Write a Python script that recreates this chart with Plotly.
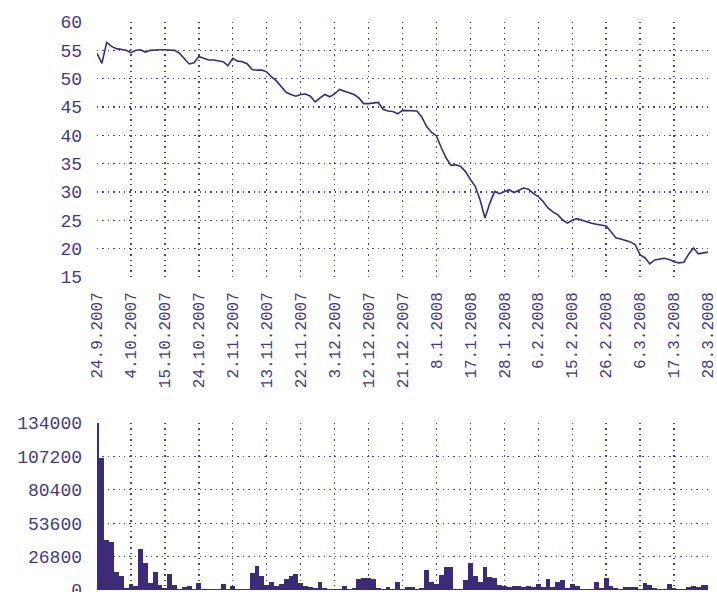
import plotly.graph_objects as go

tick_labels = ["24.9.2007", "4.10.2007", "15.10.2007", "24.10.2007", "2.11.2007",
               "13.11.2007", "22.11.2007", "3.12.2007", "12.12.2007", "21.12.2007",
               "8.1.2008", "17.1.2008", "28.1.2008", "6.2.2008", "15.2.2008",
               "26.2.2008", "6.3.2008", "17.3.2008", "28.3.2008"]
days_per_tick = 7

price = [54.5, 52.7, 56.4, 55.7, 55.3, 55.1, 55.0, 54.6, 55.0, 55.1,
         54.7, 55.0, 55.1, 55.1, 55.1, 55.1, 55.0, 54.5, 53.6, 52.6,
         52.8, 53.9, 53.6, 53.3, 53.3, 53.2, 53.0, 52.3, 53.6, 53.1,
         53.0, 52.6, 51.6, 51.5, 51.5, 51.2, 50.3, 49.6, 48.5, 47.6,
         47.2, 46.9, 47.2, 47.3, 46.9, 45.9, 46.6, 47.2, 46.8, 47.3,
         48.1, 47.8, 47.5, 47.2, 46.6, 45.6, 45.6, 45.7, 45.8, 44.6,
         44.3, 44.2, 43.8, 44.4, 44.4, 44.4, 44.3, 43.2, 41.5, 40.5,
         39.9, 37.8, 36.0, 34.7, 34.8, 34.5, 33.6, 32.2, 31.0, 28.6,
         25.4, 28.0, 30.1, 29.7, 30.0, 30.4, 29.9, 30.3, 30.7, 30.5,
         29.7, 29.2, 28.3, 27.2, 26.5, 26.0, 25.1, 24.5, 25.0, 25.3,
         25.0, 24.8, 24.5, 24.3, 24.1, 24.0, 23.0, 21.9, 21.7, 21.5,
         21.2, 20.7, 18.9, 18.4, 17.3, 18.0, 18.2, 18.3, 18.1, 17.7,
         17.5, 17.6, 19.0, 20.1, 19.1, 19.3, 19.4]

volume = [134000, 106000, 40000, 38500, 14700, 11500, 2000, 4500, 3500, 32600,
          21400, 6000, 14700, 4000, 1500, 12800, 4000, 1000, 2500, 3500,
          1000, 6000, 1000, 800, 1000, 800, 5000, 1000, 3500, 800,
          500, 800, 13900, 19500, 11500, 4000, 6700, 3500, 5000, 8500,
          11200, 12800, 5300, 3000, 2500, 1500, 6700, 1500, 1000, 1000,
          1000, 3200, 1000, 1500, 9000, 9900, 9500, 8500, 1500, 700,
          2500, 700, 6700, 700, 2500, 2500, 700, 1500, 16000, 6700,
          4800, 12000, 18200, 18200, 1000, 1000, 8000, 21400, 11200, 6700,
          18200, 10700, 9900, 4000, 3200, 2500, 3200, 3200, 2500, 3200,
          2500, 4800, 2500, 8500, 2700, 6700, 8000, 1500, 4800, 3200,
          1000, 1000, 1000, 6700, 1500, 9900, 3200, 2000, 1000, 2500,
          2500, 2500, 1000, 5300, 4000, 1500, 1000, 1000, 4800, 2000,
          800, 800, 2700, 3200, 2500, 4000, 4000]

price_ticks = [15, 20, 25, 30, 35, 40, 45, 50, 55, 60]
volume_ticks = [0, 26800, 53600, 80400, 107200, 134000]

x = list(range(len(price)))
tickvals = [i * days_per_tick for i in range(len(tick_labels))]

ink = "#3d2b7a"
text_col = "#433a86"
grid_col = "#4b3f92"
mono = "Liberation Mono, DejaVu Sans Mono, monospace"

fig = go.Figure()
fig.add_trace(go.Scatter(x=x, y=price, mode="lines",
                         line=dict(color=ink, width=1.6),
                         xaxis="x", yaxis="y", hoverinfo="skip"))
fig.add_trace(go.Bar(x=list(range(len(volume))), y=volume,
                     marker=dict(color=ink, line=dict(width=0)),
                     xaxis="x2", yaxis="y2", hoverinfo="skip"))

W, H = 717, 592
top_px, mid_bot, mid_top, bot_px = 22, 277, 423, 590
plot_h = bot_px - top_px

axis_common = dict(showgrid=True, gridcolor=grid_col, gridwidth=1.4,
                   griddash="1.4px,4px", zeroline=False, showline=False,
                   ticks="", automargin=False, ticklabeloverflow="allow")

fig.update_layout(
    width=W, height=H,
    margin=dict(l=97, r=9, t=top_px, b=H - bot_px, pad=0),
    plot_bgcolor="white", paper_bgcolor="white",
    showlegend=False, bargap=0,
    xaxis=dict(domain=[0, 1], range=[0, len(price) - 1],
               tickvals=tickvals, ticktext=tick_labels, tickangle=-90,
               tickfont=dict(family=mono, size=16, color=text_col),
               ticklabelstandoff=11, anchor="y", **axis_common),
    yaxis=dict(domain=[(bot_px - mid_bot) / plot_h, 1], range=[15, 60],
               tickvals=price_ticks,
               tickfont=dict(family=mono, size=18, color=text_col),
               ticklabelstandoff=14, anchor="x", **axis_common),
    xaxis2=dict(domain=[0, 1], range=[0, len(volume) - 1],
                tickvals=tickvals, showticklabels=False, anchor="y2",
                **axis_common),
    yaxis2=dict(domain=[0, (bot_px - mid_top) / plot_h], range=[0, 134000],
                tickvals=volume_ticks, ticktext=[str(v) for v in volume_ticks],
                tickfont=dict(family=mono, size=18, color=text_col),
                ticklabelstandoff=14, anchor="x2", **axis_common),
)

fig.write_html("out.html",
               config={"displayModeBar": False, "staticPlot": True},
               post_script="document.body.style.margin='0';"
                           "document.body.style.overflow='hidden';")
